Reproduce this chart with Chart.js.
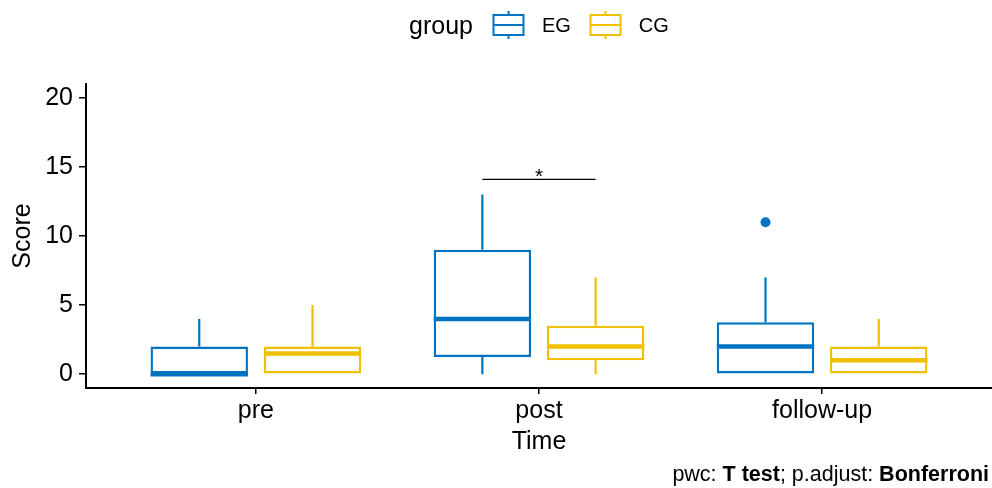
<!DOCTYPE html>
<html lang="en">
<head>
<meta charset="UTF-8">
<title>Score by Time and Group</title>
<script src="https://cdn.jsdelivr.net/npm/chart.js"></script>
<style>
  body { margin: 0; background: #fff; font-family: 'Liberation Sans', Arial, sans-serif; color: #000; }
  .wrap { position: relative; width: 992px; height: 488px; }
  .legend { position: absolute; top: 11px; left: 409px; display: flex; align-items: center; height: 28px; }
  .legend .title { font-size: 25px; margin-right: 19px; }
  .legend .item { display: flex; align-items: center; margin-right: 18px; font-size: 20px; }
  .legend .item svg { margin-right: 17px; }
  .caption { position: absolute; right: 3px; top: 462px; font-size: 21.5px; white-space: nowrap; }
</style>
</head>
<body>
<div class="wrap">
  <canvas id="boxChart" width="992" height="488"></canvas>
  <div class="legend" id="legend"><span class="title">group</span></div>
  <div class="caption">pwc: <b>T test</b>; p.adjust: <b>Bonferroni</b></div>
</div>
<script>
// categories and groups
const timeLabels = ['pre', 'post', 'follow-up'];
const groupNames = ['EG', 'CG'];
const groupColors = ['#0073C2', '#EFC000'];

// box stats for EG (per time point)
const egLow = [0, 0, 0];
const egQ1 = [0, 1.25, 0];
const egMedian = [0, 4, 2];
const egQ3 = [2, 9, 3.75];
const egHigh = [4, 13, 7];
const egOutliers = [[], [], [11]];

// box stats for CG
const cgLow = [0, 0, 0];
const cgQ1 = [0, 1, 0];
const cgMedian = [1.5, 2, 1];
const cgQ3 = [2, 3.5, 2];
const cgHigh = [5, 7, 4];
const cgOutliers = [[], [], []];

// pairwise comparison shown on the plot
const sigTime = 'post';
const sigY = 14.1;
const sigLabel = '*';

const yTicks = [0, 5, 10, 15, 20];

const stats = [
    { low: egLow, q1: egQ1, med: egMedian, q3: egQ3, high: egHigh, out: egOutliers },
    { low: cgLow, q1: cgQ1, med: cgMedian, q3: cgQ3, high: cgHigh, out: cgOutliers }
];

// legend with little box glyphs
const legendEl = document.getElementById('legend');
groupNames.forEach((g, k) => {
    const c = groupColors[k];
    const item = document.createElement('span');
    item.className = 'item';
    item.innerHTML =
        '<svg width="33" height="28" viewBox="0 0 33 28">' +
        '<line x1="16.5" y1="0" x2="16.5" y2="28" stroke="' + c + '" stroke-width="2"/>' +
        '<rect x="1.5" y="4" width="30" height="20" fill="#fff" stroke="' + c + '" stroke-width="2"/>' +
        '<line x1="1.5" y1="14" x2="31.5" y2="14" stroke="' + c + '" stroke-width="2"/>' +
        '</svg><span>' + g + '</span>';
    legendEl.appendChild(item);
});

// whiskers, medians, outliers and the significance bracket
const boxPlugin = {
    id: 'boxExtras',
    afterDatasetsDraw(chart) {
        const ctx = chart.ctx;
        const y = chart.scales.y;
        ctx.save();
        stats.forEach((s, k) => {
            const meta = chart.getDatasetMeta(k);
            meta.data.forEach((bar, i) => {
                const cx = bar.x;
                const half = bar.width / 2;
                ctx.strokeStyle = groupColors[k];
                ctx.lineWidth = 2.2;
                ctx.beginPath();
                ctx.moveTo(cx, y.getPixelForValue(s.q3[i]));
                ctx.lineTo(cx, y.getPixelForValue(s.high[i]));
                if (s.low[i] < s.q1[i]) {
                    ctx.moveTo(cx, y.getPixelForValue(s.q1[i]));
                    ctx.lineTo(cx, y.getPixelForValue(s.low[i]));
                }
                ctx.stroke();
                ctx.lineWidth = 4.5;
                ctx.beginPath();
                const my = y.getPixelForValue(s.med[i]);
                ctx.moveTo(cx - half, my);
                ctx.lineTo(cx + half, my);
                ctx.stroke();
                ctx.fillStyle = groupColors[k];
                s.out[i].forEach(v => {
                    ctx.beginPath();
                    ctx.arc(cx, y.getPixelForValue(v), 5, 0, Math.PI * 2);
                    ctx.fill();
                });
            });
        });
        const idx = timeLabels.indexOf(sigTime);
        const x1 = chart.getDatasetMeta(0).data[idx].x;
        const x2 = chart.getDatasetMeta(1).data[idx].x;
        const by = y.getPixelForValue(sigY);
        ctx.strokeStyle = '#000';
        ctx.lineWidth = 1.2;
        ctx.beginPath();
        ctx.moveTo(x1, by);
        ctx.lineTo(x2, by);
        ctx.stroke();
        ctx.fillStyle = '#000';
        ctx.font = '21px "Liberation Sans", Arial, sans-serif';
        ctx.textAlign = 'center';
        ctx.textBaseline = 'alphabetic';
        ctx.fillText(sigLabel, (x1 + x2) / 2, by + 4);
        ctx.restore();
    }
};

const axisFont = { family: "'Liberation Sans', Arial, sans-serif", size: 25 };

new Chart(document.getElementById('boxChart'), {
    type: 'bar',
    data: {
        datasets: groupNames.map((g, k) => ({
            label: g,
            data: timeLabels.map((t, i) => ({ x: i + 1, y: [stats[k].q1[i], stats[k].q3[i]] })),
            backgroundColor: '#ffffff',
            borderColor: groupColors[k],
            borderWidth: 2.4,
            borderSkipped: false,
            categoryPercentage: 0.8,
            barPercentage: 0.86
        }))
    },
    options: {
        responsive: false,
        animation: false,
        events: [],
        layout: { padding: { top: 84, right: 0, bottom: 30, left: 0 } },
        plugins: {
            legend: { display: false },
            tooltip: { enabled: false }
        },
        scales: {
            x: {
                type: 'linear',
                min: 0.4,
                max: 3.6,
                offset: false,
                afterBuildTicks: s => { s.ticks = timeLabels.map((t, i) => ({ value: i + 1 })); },
                afterFit: s => { s.height = 70; },
                ticks: {
                    color: '#000',
                    font: axisFont,
                    padding: 2,
                    maxRotation: 0,
                    callback: v => timeLabels[Math.round(v) - 1]
                },
                grid: { offset: false, drawOnChartArea: false, drawTicks: true, tickLength: 6, color: '#000', lineWidth: 1.5 },
                border: { display: true, color: '#000', width: 2 },
                title: { display: true, text: 'Time', color: '#000', font: axisFont, padding: { top: 0, bottom: 1 } }
            },
            y: {
                min: -1,
                max: 21,
                afterBuildTicks: s => { s.ticks = yTicks.map(v => ({ value: v })); },
                afterFit: s => { s.width = 86; },
                ticks: { color: '#000', font: axisFont, padding: 6 },
                grid: { drawOnChartArea: false, drawTicks: true, tickLength: 7, color: '#000', lineWidth: 1.5 },
                border: { display: true, color: '#000', width: 2 },
                title: { display: true, text: 'Score', color: '#000', font: axisFont, padding: { top: 8 } }
            }
        }
    },
    plugins: [boxPlugin]
});
</script>
</body>
</html>
